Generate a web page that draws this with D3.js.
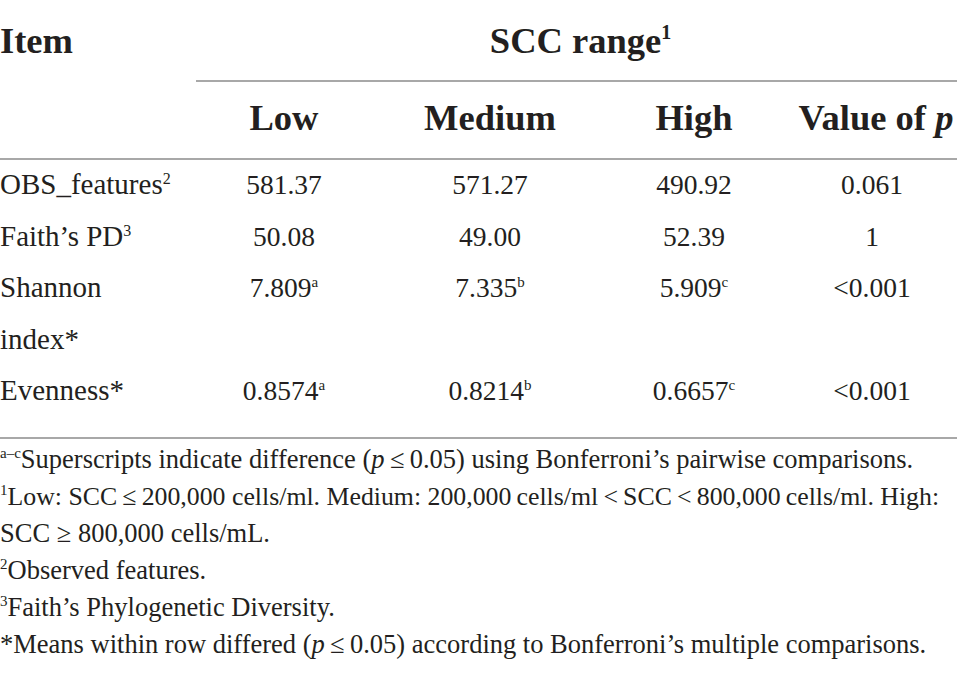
<!DOCTYPE html>
<html>
<head>
<meta charset="utf-8">
<script src="https://cdn.jsdelivr.net/npm/d3@7"></script>
<style>
  html, body { margin: 0; padding: 0; background: #fff; }
  svg { display: block; }
</style>
</head>
<body>
<svg id="chart" width="957" height="681"></svg>
<script>
// --- Donnees du tableau ---
const columns = ["Low", "Medium", "High", "Value of p"];
const items = ["OBS_features", "Faith\u2019s PD", "Shannon index*", "Evenness*"];
const itemNotes = ["2", "3", "", ""];
const lowValues = ["581.37", "50.08", "7.809", "0.8574"];
const mediumValues = ["571.27", "49.00", "7.335", "0.8214"];
const highValues = ["490.92", "52.39", "5.909", "0.6657"];
const pValues = ["0.061", "1", "<0.001", "<0.001"];
const lowLetters = ["", "", "a", "a"];
const mediumLetters = ["", "", "b", "b"];
const highLetters = ["", "", "c", "c"];
// lignes de notes : [exposant, texte] ; "_p_" = p en italique
const footnotes = [
  ["a\u2013c", "Superscripts indicate difference (_p_\u2009\u2264\u20090.05) using Bonferroni\u2019s pairwise comparisons."],
  ["1", "Low: SCC\u2009\u2264\u2009200,000 cells/ml. Medium: 200,000\u2009cells/ml\u2009<\u2009SCC\u2009<\u2009800,000\u2009cells/ml. High:"],
  ["", "SCC \u2265 800,000 cells/mL."],
  ["2", "Observed features."],
  ["3", "Faith\u2019s Phylogenetic Diversity."],
  ["", "*Means within row differed (_p_\u2009\u2264\u20090.05) according to Bonferroni\u2019s multiple comparisons."]
];

const W = 957, H = 681;
const ink = "#231f20", rule = "#a8a8a8";
const font = "'Liberation Serif', 'Times New Roman', serif";

const svg = d3.select("#chart");

// colonnes -> centre x
const x = d3.scaleOrdinal().domain(columns).range([284, 490, 694, 872]);
// lignes de texte du corps (index de ligne -> ligne de base)
const yLine = d3.scaleLinear().domain([0, 4]).range([194, 400]);
// lignes de notes
const yNote = d3.scaleLinear().domain([0, 5]).range([468, 653]);

// --- Filets ---
const rules = [
  { x1: 196, x2: W, y: 81 },
  { x1: 0, x2: W, y: 159 },
  { x1: 0, x2: W, y: 438 }
];
svg.append("g").selectAll("line").data(rules).join("line")
  .attr("x1", d => d.x1).attr("x2", d => d.x2)
  .attr("y1", d => d.y).attr("y2", d => d.y)
  .attr("stroke", rule).attr("stroke-width", 2);

// --- En-tetes ---
const head = svg.append("g")
  .attr("font-family", font).attr("font-weight", "bold")
  .attr("font-size", 36.5).attr("fill", ink);

head.append("text").attr("x", 0).attr("y", 53).text("Item");

const scc = head.append("text").attr("x", (196 + W) / 2 + 4).attr("y", 53)
  .attr("text-anchor", "middle");
scc.append("tspan").text("SCC range");
scc.append("tspan").attr("font-size", 20).attr("dy", -14).text("1");

head.selectAll("text.col").data(columns).join("text")
  .attr("class", "col")
  .attr("x", d => x(d)).attr("y", 130)
  .attr("text-anchor", "middle")
  .each(function(d) {
    const t = d3.select(this);
    if (d === "Value of p") {
      t.attr("x", x(d) + 4);
      t.append("tspan").text("Value of ");
      t.append("tspan").attr("font-style", "italic").text("p");
    } else {
      t.text(d);
    }
  });

// --- Corps ---
const body = svg.append("g")
  .attr("font-family", font).attr("font-size", 27.5).attr("fill", ink);

// positions de ligne : Shannon index occupe deux lignes
const rowLine = [];
let li = 0;
items.forEach(it => { rowLine.push(li); li += it.startsWith("Shannon") ? 2 : 1; });

items.forEach((it, i) => {
  const y0 = yLine(rowLine[i]);
  if (it.startsWith("Shannon")) {
    const parts = it.split(" ");
    body.append("text").attr("x", 0).attr("y", y0).attr("font-size", 29).text(parts[0]);
    body.append("text").attr("x", 0).attr("y", yLine(rowLine[i] + 1)).attr("font-size", 29).text(parts[1]);
  } else {
    const t = body.append("text").attr("x", 0).attr("y", y0).attr("font-size", 29);
    t.append("tspan").text(it);
    if (itemNotes[i]) t.append("tspan").attr("font-size", 16).attr("dy", -10).text(itemNotes[i]);
  }
});

const series = [
  { col: "Low", values: lowValues, letters: lowLetters },
  { col: "Medium", values: mediumValues, letters: mediumLetters },
  { col: "High", values: highValues, letters: highLetters },
  { col: "Value of p", values: pValues, letters: ["", "", "", ""] }
];

series.forEach(s => {
  s.values.forEach((v, i) => {
    const t = body.append("text")
      .attr("x", x(s.col)).attr("y", yLine(rowLine[i]))
      .attr("text-anchor", "middle");
    t.append("tspan").text(v);
    if (s.letters[i]) t.append("tspan").attr("font-size", 15).attr("dy", -10).text(s.letters[i]);
  });
});

// --- Notes ---
const notes = svg.append("g")
  .attr("font-family", font).attr("font-size", 26.5).attr("fill", ink);

footnotes.forEach((f, i) => {
  const t = notes.append("text").attr("x", 0).attr("y", yNote(i));
  if (i === 1) t.attr("font-size", 25.8);
  let first = true;
  if (f[0]) {
    t.append("tspan").attr("font-size", 15).attr("dy", -10).text(f[0]);
  }
  f[1].split("_").forEach((seg, k) => {
    const sp = t.append("tspan").text(seg);
    if (first && f[0]) sp.attr("dy", 10);
    first = false;
    if (k % 2 === 1) sp.attr("font-style", "italic");
  });
});
</script>
</body>
</html>
